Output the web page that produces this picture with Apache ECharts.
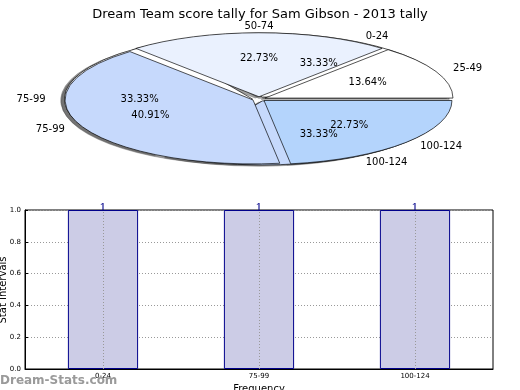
<!DOCTYPE html>
<html><head><meta charset="utf-8">
<script src="https://cdn.jsdelivr.net/npm/echarts@6/dist/echarts.min.js"></script>
<style>html,body{margin:0;padding:0;background:#fff}#c{width:520px;height:390px}</style>
</head><body><div id="c"></div>
<script>
// ---- data ----
const titleText = 'Dream Team score tally for Sam Gibson - 2013 tally';
const pieACats = ['0-24', '75-99', '100-124'];
const pieAValues = [1, 1, 1];
const pieBCats = ['25-49', '50-74', '75-99', '100-124'];
const pieBValues = [3, 5, 9, 5];
const barCats = ['0-24', '75-99', '100-124'];
const barValues = [1, 1, 1];

// ---- layout / style ----
const FONT = 'DejaVu Sans';
const CX = 259, CY = 99, RX = 188, RY = 64;
const pieAColors = ['#ffffff', '#ffffff', '#c6d9fc'];
const pieBColors = ['#ffffff', '#eaf1fe', '#c6d9fc', '#b4d4fc'];
const EXPLODE = 0.035;

function pieSeries(names, values, colors, layer, z) {
  const total = values.reduce((a, b) => a + b, 0);
  const starts = []; let acc = 0;
  values.forEach(v => { starts.push(acc); acc += v; });
  return {
    type: 'custom', coordinateSystem: 'none', z: z, silent: true,
    data: values.map((v, i) => ({ name: names[i], value: [v, starts[i]] })),
    renderItem: function (params, api) {
      const i = params.dataIndex;
      const v = api.value(0), s = api.value(1);
      const a0 = s / total * 2 * Math.PI, a1 = (s + v) / total * 2 * Math.PI;
      const am = (a0 + a1) / 2;
      const cx = CX + EXPLODE * RX * Math.cos(am);
      const cy = CY - EXPLODE * RY * Math.sin(am);
      if (layer === 'shadow' || layer === 'wedge') {
        const sh = layer === 'shadow';
        return {
          type: 'sector',
          x: cx + (sh ? -0.02 * RX : 0), y: cy + (sh ? 0.02 * RY : 0),
          scaleY: RY / RX,
          shape: { cx: 0, cy: 0, r0: 0, r: RX, startAngle: -a1, endAngle: -a0, clockwise: true },
          style: sh ? { fill: 'rgba(70,70,70,0.5)', stroke: 'rgba(70,70,70,0.5)', lineWidth: 1, strokeNoScale: true }
                    : { fill: colors[i], stroke: '#000', lineWidth: 1, strokeNoScale: true }
        };
      }
      const c = Math.cos(am), sn = Math.sin(am);
      const pct = (v / total * 100).toFixed(2) + '%';
      return {
        type: 'group',
        children: [
          { type: 'text', x: cx + 1.1 * RX * c, y: cy - 1.1 * RY * sn,
            style: { text: names[i], fill: '#000', font: '10px "' + FONT + '"',
                     align: c > 0.001 ? 'left' : (c < -0.001 ? 'right' : 'center'), verticalAlign: 'middle' } },
          { type: 'text', x: cx + 0.6 * RX * c, y: cy - 0.6 * RY * sn,
            style: { text: pct, fill: '#000', font: '10px "' + FONT + '"',
                     align: 'center', verticalAlign: 'middle' } }
        ]
      };
    }
  };
}

const chart = echarts.init(document.getElementById('c'), null, { renderer: 'canvas' });
chart.setOption({
  animation: false,
  backgroundColor: '#fff',
  title: { text: titleText, left: 'center', top: 3,
           textStyle: { fontFamily: FONT, fontSize: 13, fontWeight: 'normal', color: '#000' } },
  graphic: [
    { type: 'text', left: 0, top: 375, z: 50,
      style: { text: 'Dream-Stats.com', fill: '#9a9a9a', font: 'bold 12px "' + FONT + '"' } },
    { type: 'text', x: 3, y: 290, rotation: Math.PI / 2, z: 50,
      style: { text: 'Stat Intervals', fill: '#000', font: '10px "' + FONT + '"',
               align: 'center', verticalAlign: 'middle' } }
  ],
  grid: { left: 25, right: 27, top: 210, bottom: 21, outerBoundsMode: 'none', containLabel: false,
          show: true, borderColor: '#000', borderWidth: 1 },
  xAxis: {
    type: 'category', data: barCats, boundaryGap: true,
    name: 'Frequency', nameLocation: 'middle', nameGap: 15,
    nameTextStyle: { fontFamily: FONT, fontSize: 10, color: '#000' },
    axisLine: { lineStyle: { color: '#000' } },
    axisTick: { alignWithLabel: true, inside: true, length: 3, lineStyle: { color: '#000' } },
    axisLabel: { fontFamily: FONT, fontSize: 7, color: '#000', margin: 4 },
    splitLine: { show: false }
  },
  yAxis: {
    type: 'value', min: 0, max: 1, interval: 0.2,
    axisLine: { show: true, lineStyle: { color: '#000' } },
    axisTick: { show: true, inside: true, length: 3, lineStyle: { color: '#000' } },
    axisLabel: { fontFamily: FONT, fontSize: 7, color: '#000', margin: 4,
                 formatter: v => v.toFixed(1) },
    splitLine: { show: true, lineStyle: { type: [1, 2], color: '#999' } }
  },
  series: [
    pieSeries(pieACats, pieAValues, pieAColors, 'shadow', 1),
    pieSeries(pieBCats, pieBValues, pieBColors, 'shadow', 1),
    pieSeries(pieACats, pieAValues, pieAColors, 'wedge', 2),
    pieSeries(pieBCats, pieBValues, pieBColors, 'wedge', 3),
    pieSeries(pieACats, pieAValues, pieAColors, 'label', 10),
    pieSeries(pieBCats, pieBValues, pieBColors, 'label', 10),
    {
      type: 'bar', data: barValues, barWidth: '45%', z: 2,
      itemStyle: { color: '#cccce6', borderColor: '#00008b', borderWidth: 1 },
      label: { show: true, position: 'top', distance: -4, color: '#00008b',
               fontFamily: 'DejaVu Serif', fontSize: 11 },
      markLine: {
        silent: true, symbol: 'none', label: { show: false }, z: 5,
        lineStyle: { type: [1, 2], color: '#999', width: 1 },
        data: barCats.map(c => ({ xAxis: c }))
      }
    }
  ]
});
</script></body></html>
